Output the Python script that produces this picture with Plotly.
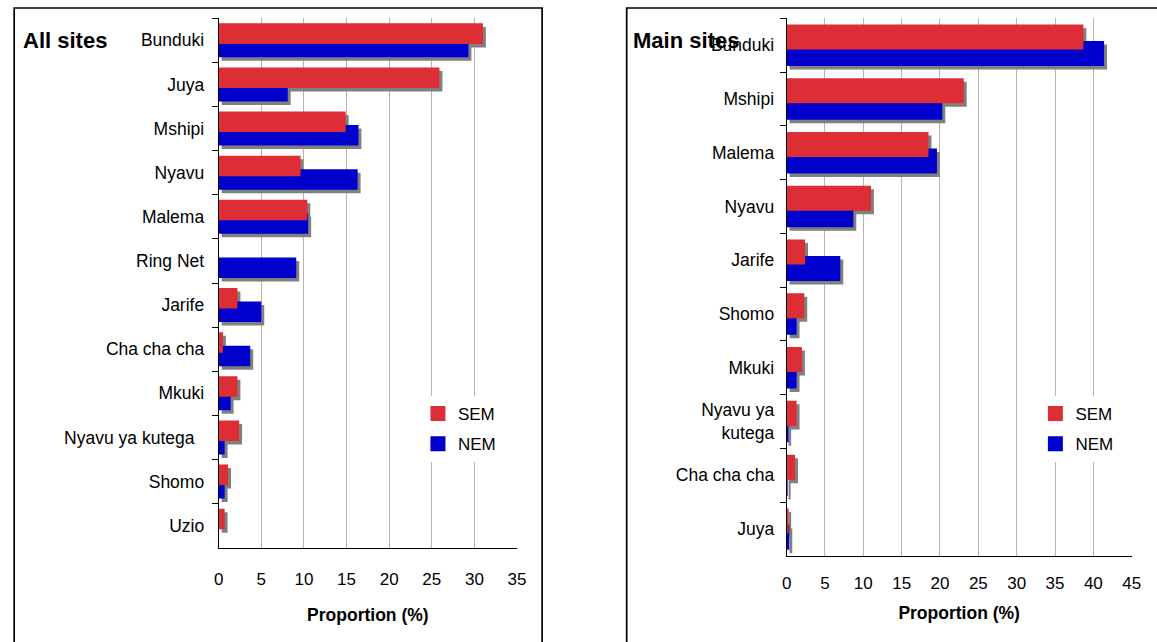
import plotly.graph_objects as go

# ---------------- data ----------------
left_sites = ["Bunduki", "Juya", "Mshipi", "Nyavu", "Malema", "Ring Net", "Jarife",
              "Cha cha cha", "Mkuki", "Nyavu ya kutega\u00a0\u00a0", "Shomo", "Uzio"]
left_sem = [31.0, 25.9, 14.9, 9.6, 10.4, 0.0, 2.2, 0.5, 2.2, 2.4, 1.1, 0.7]
left_nem = [29.3, 8.1, 16.4, 16.3, 10.5, 9.1, 5.0, 3.7, 1.4, 0.7, 0.7, 0.0]

right_sites = ["Bunduki", "Mshipi", "Malema", "Nyavu", "Jarife", "Shomo", "Mkuki",
               "Nyavu ya<br>kutega", "Cha cha cha", "Juya"]
right_sem = [38.7, 23.1, 18.5, 11.0, 2.4, 2.3, 2.0, 1.3, 1.1, 0.2]
right_nem = [41.4, 20.3, 19.6, 8.7, 7.0, 1.3, 1.3, 0.2, 0.1, 0.35]

x_ticks_left = [0, 5, 10, 15, 20, 25, 30, 35]
x_ticks_right = [0, 5, 10, 15, 20, 25, 30, 35, 40, 45]

# ---------------- style ----------------
W, H = 1157, 642
RED = "#DD2D35"
BLUE = "#0000CC"
SHADOW = "#808080"
GRID = "#B4B4B4"
FONT = "Liberation Sans, Arial, sans-serif"

BAR_W = 0.465
RED_OFF = -0.385
BLUE_OFF = -0.08

fig = go.Figure()


def add_panel(sites, sem, nem, xa, ya, legend, px_per_unit, px_per_cat):
    dx = 3.0 / px_per_unit
    dy = 3.5 / px_per_cat
    common = dict(orientation="h", y=sites, xaxis=xa, yaxis=ya, width=BAR_W,
                  hoverinfo="skip", marker_line_width=0, showlegend=False)
    # drop shadows (drawn first, beneath both series)
    for vals, off in ((nem, BLUE_OFF), (sem, RED_OFF)):
        fig.add_trace(go.Bar(x=vals, base=dx, offset=off + dy,
                             marker_color=SHADOW, **common))
    fig.add_trace(go.Bar(x=nem, offset=BLUE_OFF, marker_color=BLUE, name="NEM", **common))
    fig.add_trace(go.Bar(x=sem, offset=RED_OFF, marker_color=RED, name="SEM", **common))
    # legend entries (larger swatches)
    for name, col, rank in (("SEM", RED, 1), ("NEM", BLUE, 2)):
        fig.add_trace(go.Bar(x=[None], y=[None], orientation="h", xaxis=xa, yaxis=ya,
                             name=name, marker=dict(color=col, line=dict(color=col, width=3)),
                             legend=legend, legendrank=rank, legendgroup=legend + name,
                             showlegend=True, hoverinfo="skip"))


add_panel(left_sites, left_sem, left_nem, "x", "y", "legend", 8.63, 44.0)
add_panel(right_sites, right_sem, right_nem, "x2", "y2", "legend2", 7.76, 53.77)


def px_x(v):
    return v / W


def px_y(v):
    return 1 - v / H


yaxis_common = dict(type="category", categoryorder="array", tickson="boundaries",
                    ticks="outside", ticklen=6, tickcolor="black", tickwidth=1,
                    showline=True, linecolor="black", linewidth=1, showgrid=False,
                    tickfont=dict(size=17.5, color="black", family=FONT),
                    fixedrange=True)
xaxis_common = dict(showgrid=True, gridcolor=GRID, gridwidth=1, showline=True,
                    linecolor="black", linewidth=1, ticks="", zeroline=False,
                    tickfont=dict(size=17, color="black", family=FONT),
                    fixedrange=True)

fig.update_layout(
    width=W, height=H,
    margin=dict(l=0, r=0, t=0, b=0),
    paper_bgcolor="white", plot_bgcolor="white",
    barmode="overlay",
    font=dict(family=FONT, color="black"),
    showlegend=True,
    xaxis=dict(domain=[px_x(216.3), px_x(518.3)], anchor="y", range=[0, 35],
               tickvals=x_ticks_left, ticklabelstandoff=16,
               title=dict(text="<b>Proportion (%)</b>", font=dict(size=17.5), standoff=20),
               **xaxis_common),
    yaxis=dict(domain=[px_y(547.7), px_y(18.3)], anchor="x",
               categoryarray=left_sites, range=[len(left_sites) - 0.5, -0.5],
               ticklabelstandoff=10, **yaxis_common),
    xaxis2=dict(domain=[px_x(791.2), px_x(1140.5)], anchor="y2", range=[0, 45],
                tickvals=x_ticks_right, ticklabelstandoff=12,
                title=dict(text="<b>Proportion (%)</b>", font=dict(size=17.5), standoff=14),
                **xaxis_common),
    yaxis2=dict(domain=[px_y(556), px_y(18.3)], anchor="x2",
                categoryarray=right_sites, range=[len(right_sites) - 0.5, -0.5],
                ticklabelstandoff=8, **yaxis_common),
    legend=dict(x=px_x(418), y=px_y(396), xanchor="left", yanchor="top",
                bgcolor="white", borderwidth=0, font=dict(size=17),
                traceorder="grouped", tracegroupgap=5),
    legend2=dict(x=px_x(1043), y=px_y(396), xanchor="left", yanchor="top",
                 bgcolor="white", borderwidth=0, font=dict(size=17),
                 traceorder="grouped", tracegroupgap=5),
    annotations=[
        dict(text="<b>All sites</b>", x=px_x(16), y=px_y(41), xref="paper", yref="paper",
             xanchor="left", yanchor="middle", showarrow=False,
             font=dict(size=22, color="black", family=FONT)),
        dict(text="<b>Main sites</b>", x=px_x(634), y=px_y(41), xref="paper", yref="paper",
             xanchor="left", yanchor="middle", showarrow=False,
             font=dict(size=22, color="black", family=FONT)),
    ],
    shapes=[
        dict(type="rect", xref="paper", yref="paper", x0=px_x(9.3), x1=px_x(543.7),
             y0=-0.2, y1=px_y(8), line=dict(color="black", width=1.7), layer="below"),
        dict(type="rect", xref="paper", yref="paper", x0=px_x(629.3), x1=1.2,
             y0=-0.2, y1=px_y(8), line=dict(color="black", width=1.7), layer="below"),
    ],
)

fig.write_html("out.html", config={"displayModeBar": False})
